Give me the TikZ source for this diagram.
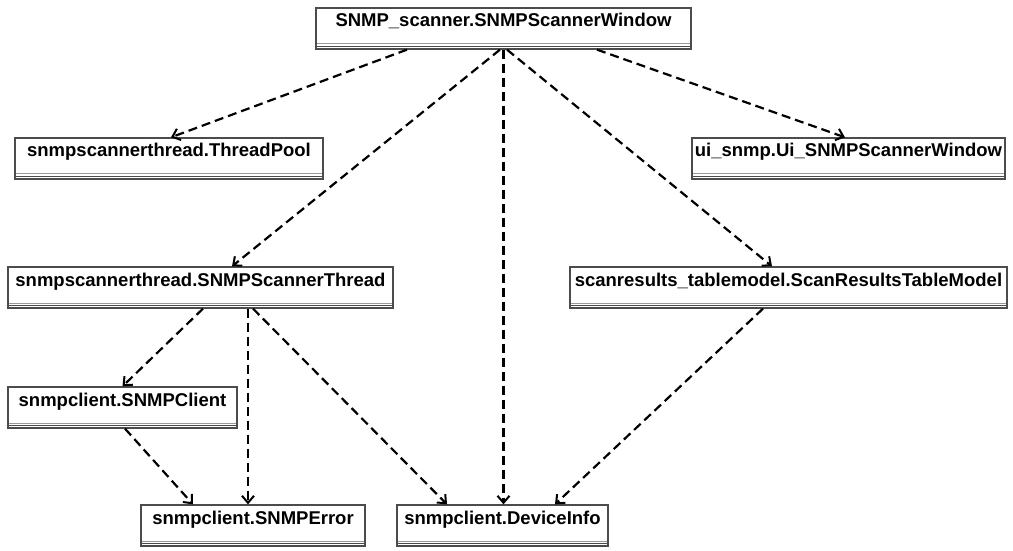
\documentclass[tikz,border=0pt]{standalone}
\usepackage{fontspec}
\setmainfont{Liberation Sans}
\usetikzlibrary{arrows.meta}

\tikzset{
  classbox/.style={
    draw=black!70, line width=1.3pt, fill=white,
    inner sep=0pt, minimum height=41pt,
    text height=13pt, text depth=16pt,
    font=\fontsize{18.5}{22}\selectfont\bfseries,
    path picture={
      \draw[black!40, line width=1pt]
        ([yshift=5pt]path picture bounding box.south west) --
        ([yshift=5pt]path picture bounding box.south east);
      \draw[black!70, line width=1pt]
        ([yshift=2.5pt]path picture bounding box.south west) --
        ([yshift=2.5pt]path picture bounding box.south east);
    }
  },
  dep/.style={
    draw=black, line width=2.2pt, dash pattern=on 9pt off 5pt,
    -{Straight Barb[length=7pt,width=12pt,line width=2pt]}
  }
}

\begin{document}
\begin{tikzpicture}[x=1pt,y=1pt]
  \useasboundingbox (0,0) rectangle (1013,550);

  % class boxes
  \node[classbox, minimum width=375pt] (win)    at (503.5,521.5) {SNMP\_scanner.SNMPScannerWindow};
  \node[classbox, minimum width=308pt] (pool)   at (169,391.5)   {snmpscannerthread.ThreadPool};
  \node[classbox, minimum width=313pt] (ui)     at (848.5,391.5) {ui\_snmp.Ui\_SNMPScannerWindow};
  \node[classbox, minimum width=385pt] (thread) at (200.5,262.5) {snmpscannerthread.SNMPScannerThread};
  \node[classbox, minimum width=437pt] (scan)   at (788.5,262.5) {scanresults\_tablemodel.ScanResultsTableModel};
  \node[classbox, minimum width=229pt] (client) at (122.5,142.5) {snmpclient.SNMPClient};
  \node[classbox, minimum width=224pt] (error)  at (253,24.5)    {snmpclient.SNMPError};
  \node[classbox, minimum width=211pt] (info)   at (502.5,24.5)  {snmpclient.DeviceInfo};

  % dependencies of the main window
  \draw[dep] ([xshift=-96.5pt]win.south) -- ([xshift=2pt]pool.north);
  \draw[dep] ([xshift=-3.5pt]win.south)  -- ([xshift=31.5pt]thread.north);
  \draw[dep] (win.south) -- (win.south |- info.north);
  \draw[dep] ([xshift=3.5pt]win.south)   -- ([xshift=-16.5pt]scan.north);
  \draw[dep] ([xshift=93.5pt]win.south)  -- ([xshift=-3.5pt]ui.north);

  % dependencies of the scanner thread
  \draw[dep] ([xshift=2.5pt]thread.south)  -- (client.north);
  \draw[dep] ([xshift=47.5pt]thread.south) -- ([xshift=47.5pt]thread.south |- error.north);
  \draw[dep] ([xshift=52.5pt]thread.south) -- ([xshift=-55.5pt]info.north);

  % remaining dependencies
  \draw[dep] ([xshift=2.5pt]client.south) -- ([xshift=-60pt]error.north);
  \draw[dep] ([xshift=-25.5pt]scan.south) -- ([xshift=52.5pt]info.north);
\end{tikzpicture}
\end{document}
